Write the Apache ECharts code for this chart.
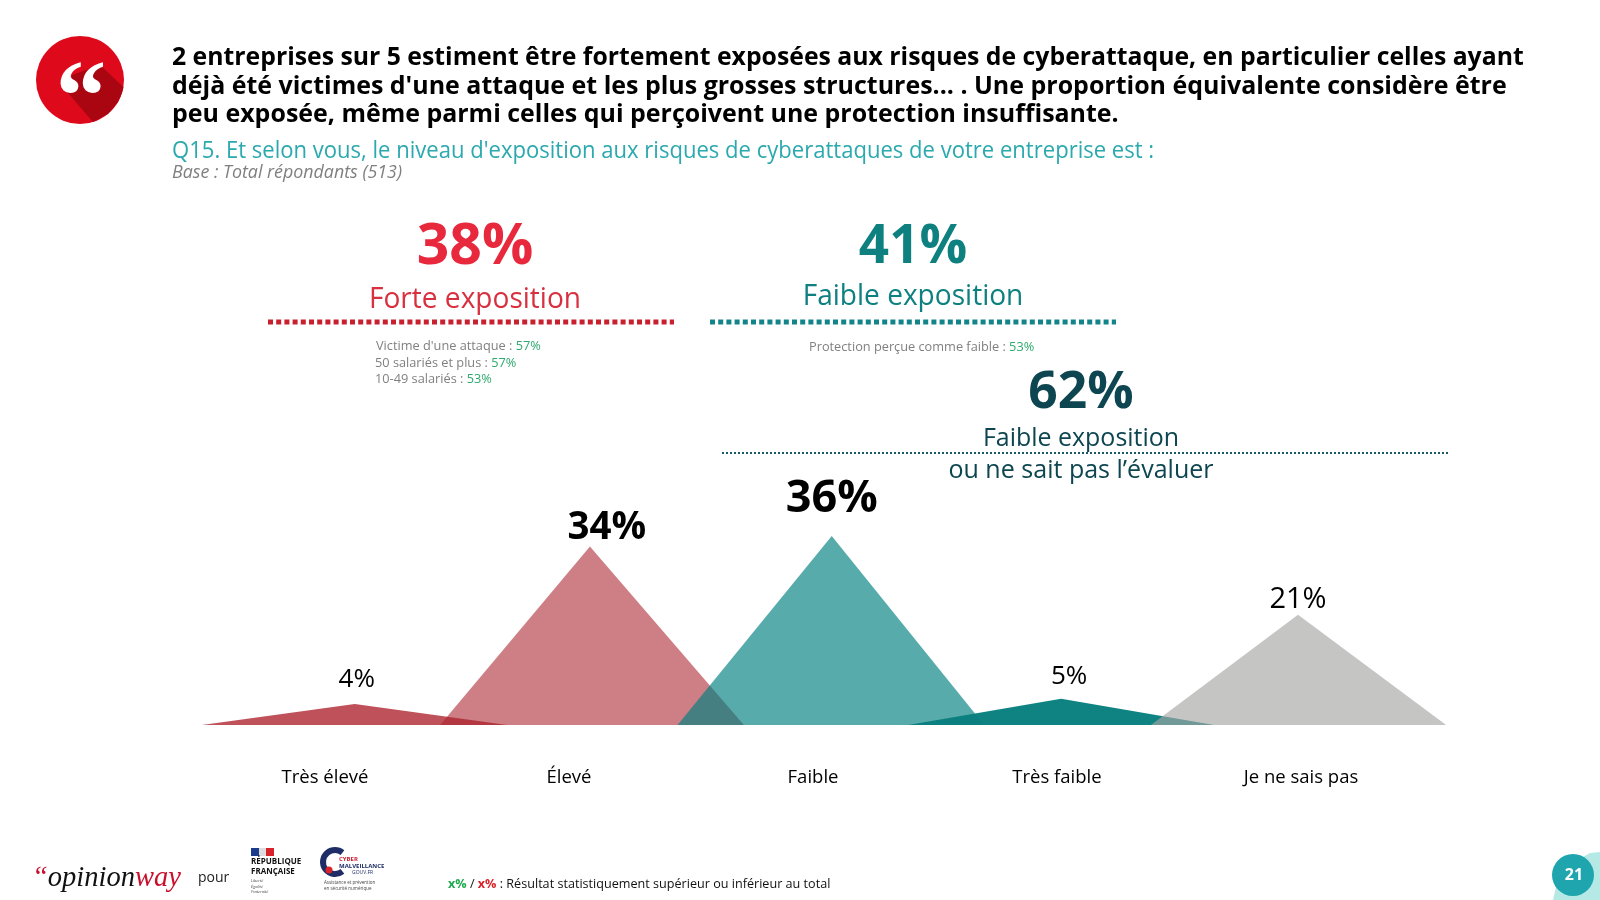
<!DOCTYPE html>
<html>
<head>
<meta charset="utf-8">
<title>Q15</title>
<script src="https://cdn.jsdelivr.net/npm/echarts@6/dist/echarts.min.js"></script>
<style>
  html, body { margin: 0; padding: 0; background: #fff; }
  #main { width: 1600px; height: 900px; }
</style>
</head>
<body>
<div id="main"></div>
<script>
var FONT = '"Open Sans", "Noto Sans", sans-serif';

// valeurs, left / apex / right en unites de colonne de l'axe
var rows = [
  { name: 'Élevé',         value: 34, left: 0.98,  apex: 1.594, right: 2.225, color: 'rgba(172,42,52,0.6)',  label: { fontSize: 38.5, bold: true,  dx: 17,  dy: 6 } },
  { name: 'Très élevé',    value: 4,  left: 0.004, apex: 0.63,  right: 1.255, color: 'rgba(174,37,48,0.8)',  label: { fontSize: 26, bold: false, dx: 2,   dy: -6 } },
  { name: 'Faible',        value: 36, left: 1.953, apex: 2.585, right: 3.21,  color: 'rgba(0,128,128,0.66)', label: { fontSize: 45, bold: true,  dx: 0,   dy: -9 } },
  { name: 'Très faible',   value: 5,  left: 2.898, apex: 3.525, right: 4.152, color: 'rgba(10,128,128,0.98)', label: { fontSize: 26, bold: false, dx: 8,   dy: -4 } },
  { name: 'Je ne sais pas', value: 21, left: 3.893, apex: 4.496, right: 5.103, color: 'rgba(166,166,165,0.65)', label: { fontSize: 29, bold: false, dx: 0, dy: 4 } }
];
var categories = ['Très élevé', 'Élevé', 'Faible', 'Très faible', 'Je ne sais pas'];

var series = rows.map(function(r) {
  return {
    name: r.name,
    type: 'line',
    xAxisIndex: 1,
    yAxisIndex: 1,
    symbol: 'circle',
    symbolSize: 0,
    silent: true,
    lineStyle: { width: 0 },
    itemStyle: { color: 'transparent' },
    areaStyle: { color: r.color, opacity: 1 },
    data: [
      [r.left, 0],
      {
        value: [r.apex, r.value],
        label: {
          show: true,
          position: 'top',
          formatter: r.value + '%',
          color: '#000',
          fontFamily: FONT,
          fontSize: r.label.fontSize,
          fontWeight: r.label.bold ? 'bold' : 'normal',
          offset: [r.label.dx, r.label.dy]
        }
      },
      [r.right, 0]
    ]
  };
});

function txt(x, y, text, size, color, opt) {
  opt = opt || {};
  return {
    type: 'text',
    x: x, y: y,
    scaleX: opt.scaleX || 1,
    style: {
      text: text,
      fontFamily: opt.family || FONT,
      fontSize: size,
      fontWeight: opt.weight || 'normal',
      fontStyle: opt.italic ? 'italic' : 'normal',
      fill: color,
      align: opt.align || 'left',
      verticalAlign: 'middle',
      rich: opt.rich
    }
  };
}

function dotted(x1, x2, y, color, width, dash) {
  return {
    type: 'line',
    shape: { x1: x1, y1: y, x2: x2, y2: y },
    style: { stroke: color, lineWidth: width, lineDash: dash }
  };
}

var GREEN = '#2EAA6E', GREY = '#808080';
var greyRich = { g: { fill: GREEN, fontSize: 12.75, fontFamily: FONT }, t: { fill: GREY, fontSize: 12.75, fontFamily: FONT } };

var elements = [
  // pastille guillemets
  { type: 'circle', shape: { cx: 80, cy: 80, r: 44 }, style: { fill: '#DE0A1C' } },
  { type: 'polygon', shape: { points: [[100, 65], [123.5, 87], [122, 93], [118, 102], [108, 114], [93, 122], [68, 93], [72, 75]] }, style: { fill: '#A90612' } },
  txt(81, 104, '“', 101, '#fff', { family: '"Liberation Serif", serif', weight: 'bold', align: 'center' }),

  // titre
  txt(172, 58, '2 entreprises sur 5 estiment être fortement exposées aux risques de cyberattaque, en particulier celles ayant', 25.5, '#000', { weight: 'bold', scaleX: 0.972 }),
  txt(172, 87, 'déjà été victimes d\'une attaque et les plus grosses structures... . Une proportion équivalente considère être', 25.5, '#000', { weight: 'bold', scaleX: 0.979 }),
  txt(172, 115, 'peu exposée, même parmi celles qui perçoivent une protection insuffisante.', 25.5, '#000', { weight: 'bold', scaleX: 0.979 }),
  txt(172, 151, 'Q15. Et selon vous, le niveau d\'exposition aux risques de cyberattaques de votre entreprise est :', 23, '#2BA9AF', { scaleX: 0.959 }),
  txt(172, 173, 'Base : Total répondants (513)', 18, '#7F7F7F', { italic: true, scaleX: 0.99 }),

  // regroupements
  txt(475, 248, '38%', 57, '#E8283C', { weight: 'bold', align: 'center' }),
  txt(475, 300, 'Forte exposition', 28.5, '#D9303F', { align: 'center', scaleX: 0.985 }),
  dotted(268, 674, 322, '#C8202F', 5, [5, 3.2]),
  txt(913, 248, '41%', 53, '#0F8080', { weight: 'bold', align: 'center' }),
  txt(913, 297, 'Faible exposition', 28.5, '#0F8080', { align: 'center', scaleX: 0.985 }),
  dotted(710, 1116, 322, '#12858A', 5, [5, 3.2]),

  txt(376, 346, '{t|Victime d\'une attaque : }{g|57%}', 12.75, GREY, { rich: greyRich }),
  txt(375, 363, '{t|50 salariés et plus : }{g|57%}', 12.75, GREY, { rich: greyRich }),
  txt(375, 379, '{t|10-49 salariés : }{g|53%}', 12.75, GREY, { rich: greyRich }),
  txt(809, 347, '{t|Protection perçue comme faible : }{g|53%}', 12.75, GREY, { rich: greyRich }),

  txt(1081, 393, '62%', 51.5, '#0D4650', { weight: 'bold', align: 'center' }),
  txt(1081, 439, 'Faible exposition', 26, '#0D4650', { align: 'center', scaleX: 0.96 }),
  txt(1081, 471, 'ou ne sait pas l’évaluer', 26, '#0D4650', { align: 'center', scaleX: 0.963 }),
  dotted(722, 1448, 453, '#1A5A66', 2, [2, 2]),

  // pied de page
  txt(32, 879, '{r|“}{k|opinion}{r|way}', 28.5, '#111', {
    family: '"Liberation Serif", serif',
    rich: {
      r: { fill: '#C8102E', fontSize: 28.5, fontStyle: 'italic', fontFamily: '"Liberation Serif", serif' },
      k: { fill: '#111', fontSize: 28.5, fontStyle: 'italic', fontFamily: '"Liberation Serif", serif' }
    }
  }),
  txt(198, 878, 'pour', 14, '#222'),
  { type: 'rect', shape: { x: 251, y: 848, width: 8, height: 8 }, style: { fill: '#1B3C8C' } },
  { type: 'rect', shape: { x: 259, y: 848, width: 7, height: 8 }, style: { fill: '#ddd' } },
  { type: 'rect', shape: { x: 266, y: 848, width: 8, height: 8 }, style: { fill: '#D8232A' } },
  txt(251, 862, 'RÉPUBLIQUE', 8, '#111', { weight: 'bold' }),
  txt(251, 872, 'FRANÇAISE', 8, '#111', { weight: 'bold' }),
  txt(251, 881, 'Liberté', 4, '#444', { italic: true }),
  txt(251, 887, 'Égalité', 4, '#444', { italic: true }),
  txt(251, 892, 'Fraternité', 4, '#444', { italic: true }),
  { type: 'arc', shape: { cx: 335, cy: 862, r: 12, startAngle: 0.9, endAngle: -0.9, clockwise: true }, style: { stroke: '#1E2D66', fill: null, lineWidth: 6 } },
  { type: 'circle', shape: { cx: 329, cy: 870, r: 3.5 }, style: { fill: '#D8232A' } },
  txt(339, 859, 'CYBER', 6, '#C8202F', { weight: 'bold' }),
  txt(339, 866, 'MALVEILLANCE', 6, '#1E2D66', { weight: 'bold' }),
  txt(352, 873, 'GOUV.FR', 5, '#1E2D66'),
  txt(324, 883, 'Assistance et prévention', 4.5, '#444'),
  txt(324, 889, 'en sécurité numérique', 4.5, '#444'),
  txt(448, 884, '{g|x%}{n| / }{r|x%}{n| : Résultat statistiquement supérieur ou inférieur au total}', 13, '#111', {
    scaleX: 0.97,
    rich: {
      g: { fill: '#1DA84F', fontWeight: 'bold', fontSize: 13, fontFamily: FONT },
      r: { fill: '#D8232A', fontWeight: 'bold', fontSize: 13, fontFamily: FONT },
      n: { fill: '#111', fontSize: 13, fontFamily: FONT }
    }
  }),

  // numero de page
  { type: 'polygon', shape: { points: [[1553, 900], [1560, 870], [1590, 853], [1600, 852], [1600, 900]] }, style: { fill: '#B5E9E6' } },
  { type: 'circle', shape: { cx: 1573, cy: 875, r: 21 }, style: { fill: '#1FA5AE' } },
  txt(1574, 875, '21', 16, '#fff', { weight: 'bold', align: 'center' })
];

var chart = echarts.init(document.getElementById('main'));
var option = {
  animation: false,
  grid: [
    { left: 203, width: 1220, top: 515, height: 210 },   // colonnes et libelles
    { left: 201, width: 1281, top: 515, height: 210 }    // triangles, qui debordent des colonnes
  ],
  xAxis: [
    {
      type: 'category',
      gridIndex: 0,
      data: categories,
      axisLine: { show: false },
      axisTick: { show: false },
      axisLabel: { color: '#000', fontFamily: FONT, fontSize: 18.5, margin: 43, interval: 0 }
    },
    { type: 'value', gridIndex: 1, min: 0, max: 5.25, show: false }
  ],
  yAxis: [
    { type: 'value', gridIndex: 0, min: 0, max: 40, show: false },
    { type: 'value', gridIndex: 1, min: 0, max: 40, show: false }
  ],
  series: series,
  graphic: { elements: elements }
};
chart.setOption(option);
</script>
</body>
</html>
